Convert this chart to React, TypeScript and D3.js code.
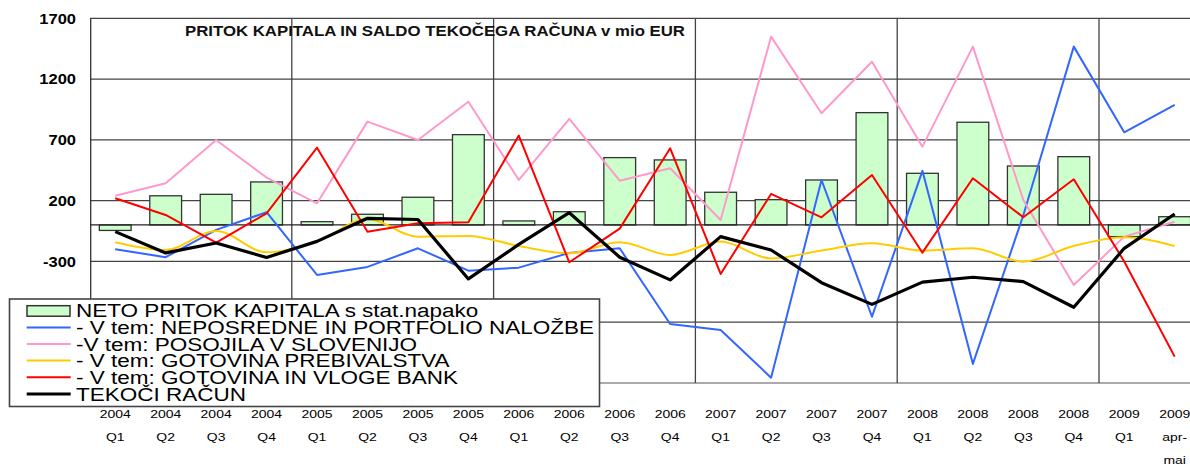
import React from "react";
import * as d3 from "d3";

const years = ["2004","2004","2004","2004","2005","2005","2005","2005","2006","2006","2006","2006","2007","2007","2007","2007","2008","2008","2008","2008","2009","2009"];
const periods = ["Q1","Q2","Q3","Q4","Q1","Q2","Q3","Q4","Q1","Q2","Q3","Q4","Q1","Q2","Q3","Q4","Q1","Q2","Q3","Q4","Q1","apr-|mai"];

const netoPritok = [-45, 240, 252, 354, 27, 88, 228, 743, 33, 109, 554, 535, 269, 208, 370, 924, 425, 845, 485, 562, -96, 68];
const neposredne = [-200, -265, -40, 105, -411, -345, -192, -376, -351, -230, -192, -815, -864, -1256, 370, -755, 445, -1143, 80, 1467, 762, 987];
const posojila = [241, 343, 699, 390, 178, 850, 699, 1014, 370, 872, 364, 466, 41, 1549, 919, 1343, 644, 1467, 206, -494, -96, 27];
const gotovinaPreb = [-142, -206, -49, -225, -137, 50, -96, -90, -173, -233, -142, -247, -137, -276, -210, -151, -210, -192, -302, -173, -101, -173];
const gotovinaBank = [220, 82, -145, 96, 636, -55, 15, 22, 735, -307, -30, 631, -403, 255, 63, 411, -228, 384, 63, 376, -300, -1083];
const tekociRacun = [-55, -230, -148, -267, -135, 55, 45, -444, -160, 101, -265, -452, -96, -206, -475, -653, -470, -430, -466, -677, -192, 90];

const yTicks = [1700, 1200, 700, 200, -300, -800, -1300];

const title = "PRITOK KAPITALA IN SALDO TEKOČEGA RAČUNA v mio EUR";
const legendLabels = [
  "NETO PRITOK KAPITALA s stat.napako",
  "- V tem: NEPOSREDNE IN PORTFOLIO NALOŽBE",
  "-V tem: POSOJILA V SLOVENIJO",
  "- V tem: GOTOVINA PREBIVALSTVA",
  "- V tem: GOTOVINA IN VLOGE BANK",
  "TEKOČI RAČUN",
];

const FONT = "'Liberation Sans', Arial, sans-serif";

function ST({ x, y, sx = 1, anchor = "start", size, weight = "normal", fill = "#000", children }: any) {
  return (
    <g transform={`translate(${x},${y}) scale(${sx},1)`}>
      <text textAnchor={anchor} fontSize={size} fontWeight={weight} fill={fill} fontFamily={FONT}>
        {children}
      </text>
    </g>
  );
}

export default function App() {
  const W = 1190, H = 464;
  const n = years.length;
  const step = 50.45;
  const x0 = 90;
  const x = d3.scaleBand<number>().domain(d3.range(n)).range([x0, x0 + step * n]).paddingInner(0.37).paddingOuter(0.185);
  const cx = (i: number) => (x(i) as number) + x.bandwidth() / 2;
  const y = d3.scaleLinear().domain([-1300, 1700]).range([383, 18.3]);

  const straight = d3.line<number>().x((_, i) => cx(i)).y((d) => y(d));
  const smooth = d3.line<number>().x((_, i) => cx(i)).y((d) => y(d)).curve(d3.curveMonotoneX);

  const series = [
    { data: neposredne, color: "#3366ff", w: 2, gen: straight },
    { data: posojila, color: "#ff99cc", w: 2, gen: straight },
    { data: gotovinaPreb, color: "#ffcc00", w: 2, gen: smooth },
    { data: gotovinaBank, color: "#ff0000", w: 2, gen: straight },
    { data: tekociRacun, color: "#000000", w: 3.2, gen: straight },
  ];

  const xEnd = x0 + step * n;
  const yearLines = [4, 8, 12, 16, 20].map((k) => x0 + step * k);

  const legendColors = ["bar", "#3366ff", "#ff99cc", "#ffcc00", "#ff0000", "#000000"];
  const legendY = [310.7, 327.5, 344, 360.5, 377.2, 394];

  return (
    <svg width={W} height={H} style={{ position: "absolute", left: 0, top: 0, background: "#fff" }}>
      <rect x={0} y={0} width={W} height={H} fill="#fff" />
      {yTicks.map((t) => (
        <line key={t} x1={x0} x2={xEnd} y1={y(t)} y2={y(t)} stroke={t === -1300 ? "#aaa" : "#444"} strokeWidth={t === -1300 ? 2 : 1.2} />
      ))}
      {yearLines.map((lx, i) => (
        <line key={i} x1={lx} x2={lx} y1={y(1700)} y2={y(-1300)} stroke="#444" strokeWidth={1.3} />
      ))}
      <line x1={x0 + 0.7} x2={x0 + 0.7} y1={y(1700)} y2={y(-1300) + 24} stroke="#333" strokeWidth={1.3} />
      {netoPritok.map((v, i) => (
        <rect key={i} x={x(i)} width={x.bandwidth()} y={Math.min(y(v), y(0))} height={Math.abs(y(v) - y(0))}
          fill="#ccffcc" stroke="#333" strokeWidth={1.3} />
      ))}
      <line x1={x0} x2={xEnd} y1={y(0)} y2={y(0)} stroke="#222" strokeWidth={1.3} />
      {series.map((s, k) => (
        <path key={k} d={s.gen(s.data) as string} fill="none" stroke={s.color} strokeWidth={s.w} strokeLinejoin="round" />
      ))}
      {yTicks.map((t) => (
        <ST key={t} x={76} y={y(t) + 5.3} sx={1.1} anchor="end" size={15} weight="bold">{t}</ST>
      ))}
      <ST x={185} y={36} sx={1.12} size={15} weight="bold" fill="#111">{title}</ST>
      {years.map((yr, i) => {
        const parts = periods[i].split("|");
        return (
          <g key={i}>
            <ST x={cx(i)} y={418} sx={1.27} anchor="middle" size={11}>{yr}</ST>
            <ST x={cx(i)} y={440.5} sx={1.27} anchor="middle" size={11}>{parts[0]}</ST>
            {parts[1] && <ST x={cx(i)} y={464} sx={1.27} anchor="middle" size={11}>{parts[1]}</ST>}
          </g>
        );
      })}
      <rect x={9.5} y={299} width={590} height={107.5} fill="#fff" stroke="#444" strokeWidth={1.6} />
      {legendLabels.map((lab, i) => (
        <g key={i}>
          {legendColors[i] === "bar" ? (
            <rect x={27} y={legendY[i] - 5} width={43} height={10.5} fill="#ccffcc" stroke="#333" strokeWidth={1.5} />
          ) : (
            <line x1={26.7} x2={70.7} y1={legendY[i]} y2={legendY[i]} stroke={legendColors[i]} strokeWidth={i === 5 ? 3.2 : 2} />
          )}
          <ST x={76} y={legendY[i] + 6.5} sx={1.25} size={18}>{lab}</ST>
        </g>
      ))}
    </svg>
  );
}
